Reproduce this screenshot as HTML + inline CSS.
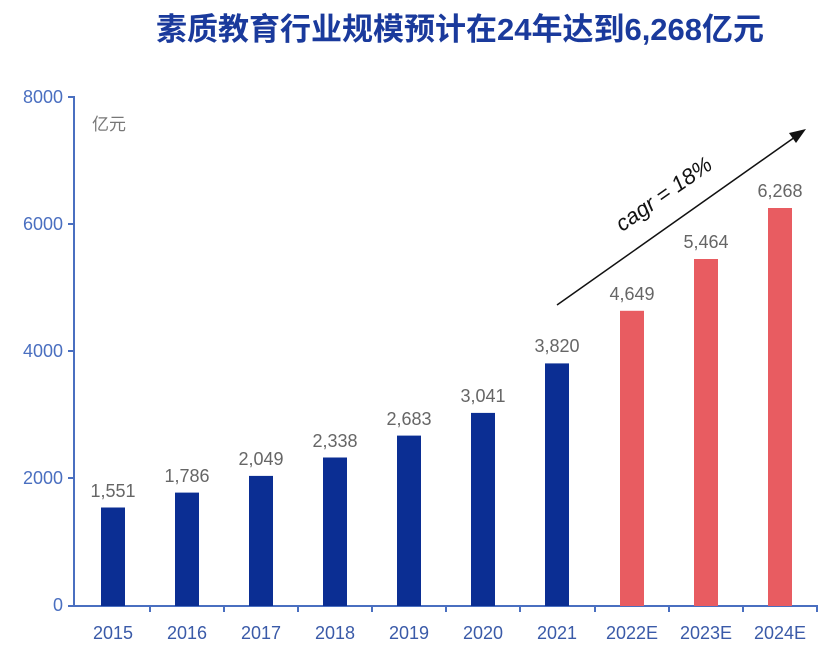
<!DOCTYPE html>
<html><head><meta charset="utf-8"><style>
body{margin:0;background:#fff;width:831px;height:648px;overflow:hidden}
</style></head><body>
<svg width="831" height="648" xmlns="http://www.w3.org/2000/svg" font-family="Liberation Sans, Noto Sans CJK SC, sans-serif">
<text x="460" y="40" text-anchor="middle" font-size="31" font-weight="bold" fill="#1a3a9c" font-family="Liberation Sans, Noto Sans CJK SC, sans-serif">素质教育行业规模预计在24年达到6,268亿元</text>
<g stroke="#4a6fc0" stroke-width="2" fill="none">
<line x1="74" y1="96" x2="74" y2="606"/>
<line x1="68" y1="606" x2="818" y2="606"/>
<line x1="68" y1="97" x2="74" y2="97"/><line x1="68" y1="224" x2="74" y2="224"/><line x1="68" y1="351" x2="74" y2="351"/><line x1="68" y1="478" x2="74" y2="478"/>
<line x1="150" y1="606" x2="150" y2="612"/><line x1="224" y1="606" x2="224" y2="612"/><line x1="298" y1="606" x2="298" y2="612"/><line x1="372" y1="606" x2="372" y2="612"/><line x1="446" y1="606" x2="446" y2="612"/><line x1="520" y1="606" x2="520" y2="612"/><line x1="595" y1="606" x2="595" y2="612"/><line x1="669" y1="606" x2="669" y2="612"/><line x1="743" y1="606" x2="743" y2="612"/><line x1="817" y1="606" x2="817" y2="612"/>
</g>
<g fill="#4a6fc0" font-size="18" text-anchor="end">
<text x="63" y="103">8000</text><text x="63" y="230">6000</text><text x="63" y="357">4000</text><text x="63" y="484">2000</text><text x="63" y="611">0</text>
</g>
<text x="92" y="130" font-size="17" fill="#777">亿元</text>
<g fill="#0b2e93">
<rect x="101" y="507.5" width="24" height="98.5"/>
<rect x="175" y="492.6" width="24" height="113.4"/>
<rect x="249" y="475.9" width="24" height="130.1"/>
<rect x="323" y="457.5" width="24" height="148.5"/>
<rect x="397" y="435.6" width="24" height="170.4"/>
<rect x="471" y="412.9" width="24" height="193.1"/>
<rect x="545" y="363.4" width="24" height="242.6"/>
</g>
<g fill="#e85c61">
<rect x="620" y="310.8" width="24" height="295.2"/>
<rect x="694" y="259.0" width="24" height="347"/>
<rect x="768" y="208" width="24" height="398"/>
</g>
<g fill="#666" font-size="18" text-anchor="middle">
<text x="113" y="497">1,551</text><text x="187" y="482">1,786</text><text x="261" y="465">2,049</text><text x="335" y="447">2,338</text><text x="409" y="425">2,683</text><text x="483" y="402">3,041</text><text x="557" y="352">3,820</text><text x="632" y="300">4,649</text><text x="706" y="248">5,464</text><text x="780" y="197">6,268</text>
</g>
<g fill="#3a5aa8" font-size="18" text-anchor="middle">
<text x="113" y="639">2015</text><text x="187" y="639">2016</text><text x="261" y="639">2017</text><text x="335" y="639">2018</text><text x="409" y="639">2019</text><text x="483" y="639">2020</text><text x="557" y="639">2021</text><text x="632" y="639">2022E</text><text x="706" y="639">2023E</text><text x="780" y="639">2024E</text>
</g>
<line x1="557" y1="305" x2="795" y2="137" stroke="#111" stroke-width="1.5"/>
<polygon points="806,129 789,133 796,143" fill="#111"/>
<text x="668" y="200" font-size="22" font-style="italic" fill="#111" text-anchor="middle" transform="rotate(-35 668 200)">cagr = 18%</text>
</svg>
</body></html>
